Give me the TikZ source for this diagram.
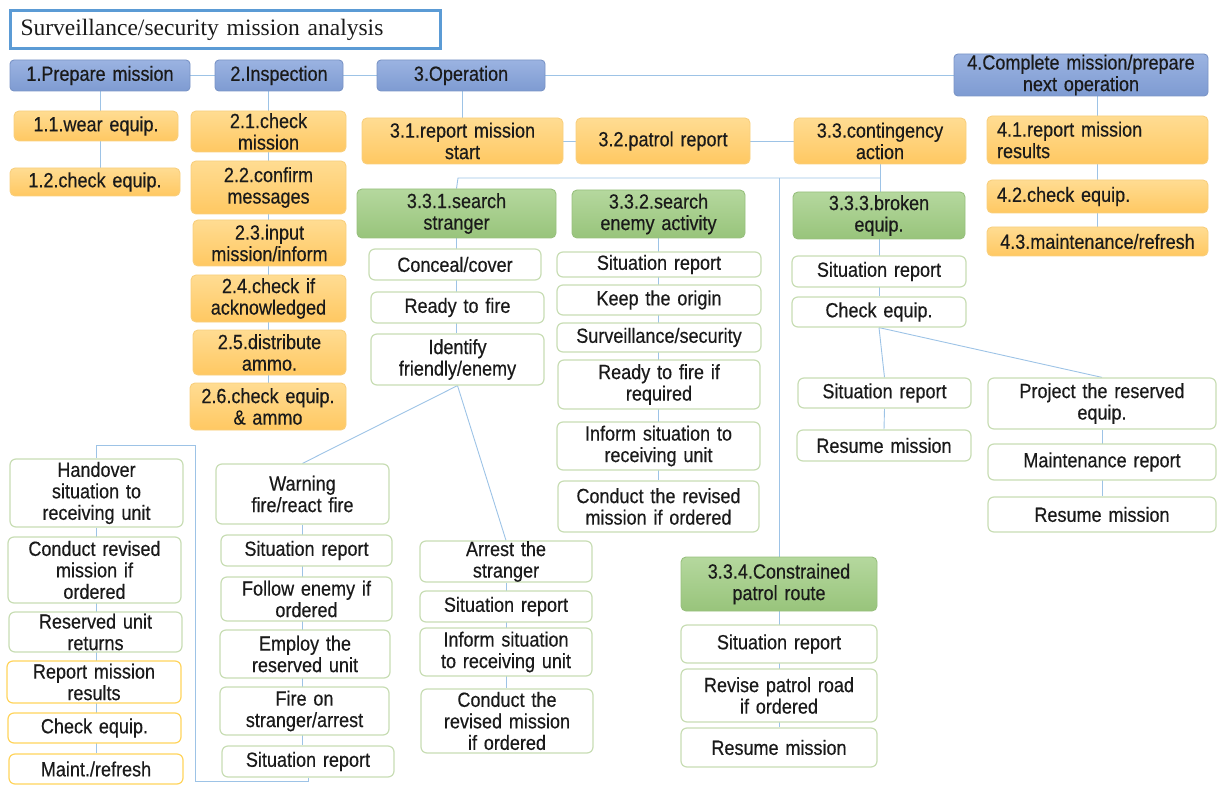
\documentclass[tikz,border=0pt]{standalone}
\usepackage{fontspec}
\setmainfont[FakeStretch=0.88,WordSpace=1.6,FakeBold=0.35]{Liberation Sans}
\newfontfamily\ttlfont[WordSpace=1.4]{Liberation Serif}
\usetikzlibrary{backgrounds}
\definecolor{bluet}{HTML}{9BB3E1}
\definecolor{blueb}{HTML}{7E9BD2}
\definecolor{blued}{HTML}{7A94C6}
\definecolor{ort}{HTML}{FFDC92}
\definecolor{orb}{HTML}{FFC862}
\definecolor{ord}{HTML}{F8CF7E}
\definecolor{grt}{HTML}{B5D89E}
\definecolor{grb}{HTML}{98C47B}
\definecolor{grd}{HTML}{98C07E}
\definecolor{wbd}{HTML}{C8DDB4}
\definecolor{obd}{HTML}{FFD45C}
\definecolor{lnc}{HTML}{9DC3E6}
\definecolor{ttl}{HTML}{5B9BD5}
\definecolor{txt}{HTML}{1A1A1A}
\newcommand{\mybox}[7]{%
  \pgfmathsetmacro{\mbw}{#5-#3}\pgfmathsetmacro{\mbh}{#6-#4}%
  \pgfmathsetmacro{\mbt}{#5-#3-4}%
  \pgfmathsetmacro{\mbx}{(#3+#5)/2}\pgfmathsetmacro{\mby}{-(#4+#6)/2}%
  \node[basebox,#2,minimum width=\mbw pt,minimum height=\mbh pt,text width=\mbt pt] (#1) at (\mbx pt,\mby pt) {#7};}
\tikzset{
  basebox/.style={inner sep=0pt,align=center,text=txt,font=\fontsize{20.5}{21.5}\selectfont,line width=0.9pt},
  lvlone/.style={rounded corners=4pt,top color=bluet,bottom color=blueb,draw=blued},
  lvltwo/.style={rounded corners=5pt,top color=ort,bottom color=orb,draw=ord},
  grbox/.style={rounded corners=5pt,top color=grt,bottom color=grb,draw=grd},
  whbox/.style={rounded corners=6pt,fill=white,draw=wbd,line width=1.2pt},
  obox/.style={rounded corners=6pt,fill=white,draw=obd,line width=1.2pt},
  lft/.style={align=left},
  conn/.style={draw=lnc,line width=0.9pt}
}
\begin{document}
\begin{tikzpicture}
\useasboundingbox (0,0) rectangle (1218pt,-786pt);
% title
\node[draw=ttl,line width=3pt,minimum width=430pt,minimum height=38pt,anchor=north west,
  font=\ttlfont\fontsize{23.5}{26}\selectfont,text width=410pt,align=left,inner sep=0pt,text=txt]
  (title) at (9pt,-9pt) {Surveillance/security mission analysis};
% level 1
\mybox{p1}{lvlone}{10}{60}{190}{91}{1.Prepare mission}
\mybox{p2}{lvlone}{215}{60}{343}{91}{2.Inspection}
\mybox{p3}{lvlone}{377}{60}{545}{91}{3.Operation}
\mybox{p4}{lvlone}{954}{54}{1208}{96}{4.Complete mission/prepare\\next operation}
% level 2
\mybox{a11}{lvltwo}{14}{111}{178}{141}{1.1.wear equip.}
\mybox{a12}{lvltwo}{10}{168}{180}{196}{1.2.check equip.}
\mybox{a21}{lvltwo}{191}{111}{346}{152}{2.1.check\\mission}
\mybox{a22}{lvltwo}{191}{161}{346}{214}{2.2.confirm\\messages}
\mybox{a23}{lvltwo}{193}{220}{346}{266}{2.3.input\\mission/inform}
\mybox{a24}{lvltwo}{191}{275}{346}{322}{2.4.check if\\acknowledged}
\mybox{a25}{lvltwo}{193}{330}{346}{375}{2.5.distribute\\ammo.}
\mybox{a26}{lvltwo}{190}{383}{346}{430}{2.6.check equip.\\\& ammo}
\mybox{c31}{lvltwo}{362}{118}{563}{164}{3.1.report mission\\start}
\mybox{c32}{lvltwo}{576}{118}{750}{164}{3.2.patrol report}
\mybox{c33}{lvltwo}{794}{118}{966}{164}{3.3.contingency\\action}
\mybox{d41}{lvltwo,lft}{987}{116}{1208}{164}{\hspace*{8pt}4.1.report mission\\\hspace*{8pt}results}
\mybox{d42}{lvltwo,lft}{987}{180}{1208}{213}{\hspace*{8pt}4.2.check equip.}
\mybox{d43}{lvltwo}{987}{227}{1208}{256}{4.3.maintenance/refresh}
% green
\mybox{g1}{grbox}{357}{189}{556}{238}{3.3.1.search\\stranger}
\mybox{g2}{grbox}{572}{190}{745}{238}{3.3.2.search\\enemy activity}
\mybox{g3}{grbox}{793}{192}{965}{239}{3.3.3.broken\\equip.}
\mybox{g4}{grbox}{681}{557}{877}{611}{3.3.4.Constrained\\patrol route}
% 3.3.1 column
\mybox{s11}{whbox}{369}{249}{541}{280}{Conceal/cover}
\mybox{s12}{whbox}{371}{292}{544}{323}{Ready to fire}
\mybox{s13}{whbox}{371}{334}{544}{385}{Identify\\friendly/enemy}
% 3.3.2 column
\mybox{s21}{whbox}{557}{252}{761}{277}{Situation report}
\mybox{s22}{whbox}{557}{285}{761}{315}{Keep the origin}
\mybox{s23}{whbox}{557}{323}{761}{352}{Surveillance/security}
\mybox{s24}{whbox}{558}{360}{760}{409}{Ready to fire if\\required}
\mybox{s25}{whbox}{557}{422}{760}{470}{Inform situation to\\receiving unit}
\mybox{s26}{whbox}{558}{481}{759}{532}{Conduct the revised\\mission if ordered}
% 3.3.3 column
\mybox{s31}{whbox}{792}{256}{966}{287}{Situation report}
\mybox{s32}{whbox}{792}{297}{966}{327}{Check equip.}
\mybox{s33}{whbox}{798}{378}{971}{408}{Situation report}
\mybox{s34}{whbox}{797}{430}{971}{461}{Resume mission}
\mybox{s35}{whbox}{988}{378}{1216}{429}{Project the reserved\\equip.}
\mybox{s36}{whbox}{988}{444}{1216}{480}{Maintenance report}
\mybox{s37}{whbox}{988}{497}{1216}{532}{Resume mission}
% 3.3.4 column
\mybox{s41}{whbox}{681}{625}{877}{663}{Situation report}
\mybox{s42}{whbox}{681}{669}{877}{722}{Revise patrol road\\if ordered}
\mybox{s43}{whbox}{681}{728}{877}{767}{Resume mission}
% warning column
\mybox{w1}{whbox}{216}{464}{389}{524}{Warning\\fire/react fire}
\mybox{w2}{whbox}{221}{535}{392}{566}{Situation report}
\mybox{w3}{whbox}{221}{577}{392}{621}{Follow enemy if\\ordered}
\mybox{w4}{whbox}{220}{630}{390}{678}{Employ the\\reserved unit}
\mybox{w5}{whbox}{220}{687}{389}{735}{Fire on\\stranger/arrest}
\mybox{w6}{whbox}{222}{746}{394}{777}{Situation report}
% arrest column
\mybox{r1}{whbox}{420}{541}{592}{582}{Arrest the\\stranger}
\mybox{r2}{whbox}{420}{591}{592}{622}{Situation report}
\mybox{r3}{whbox}{420}{628}{592}{676}{Inform situation\\to receiving unit}
\mybox{r4}{whbox}{421}{689}{593}{753}{Conduct the\\revised mission\\if ordered}
% left column
\mybox{l1}{whbox}{10}{459}{183}{527}{Handover\\situation to\\receiving unit}
\mybox{l2}{whbox}{8}{537}{181}{603}{Conduct revised\\mission if\\ordered}
\mybox{l3}{whbox}{9}{612}{182}{652}{Reserved unit\\returns}
\mybox{l4}{obox}{7}{661}{181}{703}{Report mission\\results}
\mybox{l5}{obox}{8}{713}{181}{743}{Check equip.}
\mybox{l6}{obox}{9}{754}{183}{784}{Maint./refresh}
% connector helper coordinates
\coordinate (hl) at (458pt,-178pt);
\coordinate (hr) at (880pt,-178pt);
\coordinate (lb) at (195pt,-781pt);
\coordinate (lt) at (195pt,-445pt);
\begin{pgfonlayer}{background}
\draw[conn] (p1.east) -- (p2.west);
\draw[conn] (p2.east) -- (p3.west);
\draw[conn] (p3.east) -- (p3.east -| p4.west);
\draw[conn] (p1.south) -- (p1.south |- a12.north);
\draw[conn] (a21.center |- p2.south) -- (a21.center |- a26.north);
\draw[conn] (c31.center |- p3.south) -- (c31.north);
\draw[conn] (c31.east) -- (c32.west);
\draw[conn] (c32.east) -- (c33.west);
\draw[conn] (d41.center |- p4.south) -- (d41.center |- d43.north);
\draw[conn] (c33.south) -- (c33.south |- g3.north);
\draw[conn] (g1.north) -- (hl) -- (hr);
\draw[conn] (g4.north |- hl) -- (g4.north);
\draw[conn] (g1.south) -- (g1.south |- s13.north);
\draw[conn] (g2.south) -- (g2.south |- s26.north);
\draw[conn] (g3.south) -- (g3.south |- s32.north);
\draw[conn] (s32.south) -- (s33.north);
\draw[conn] (s32.south) -- (s35.north);
\draw[conn] (s33.south) -- (s34.north);
\draw[conn] (s35.south) -- (s35.south |- s37.north);
\draw[conn] (g4.south) -- (g4.south |- s43.north);
\draw[conn] (s13.south) -- (w1.north);
\draw[conn] (s13.south) -- (r1.north);
\draw[conn] (w1.south) -- (w1.south |- w6.north);
\draw[conn] (r1.south) -- (r1.south |- r4.north);
\draw[conn] (w6.south) |- (lb) -- (lt) -| (l1.north);
\draw[conn] (l1.south) -- (l1.south |- l6.north);
\end{pgfonlayer}
\end{tikzpicture}
\end{document}
